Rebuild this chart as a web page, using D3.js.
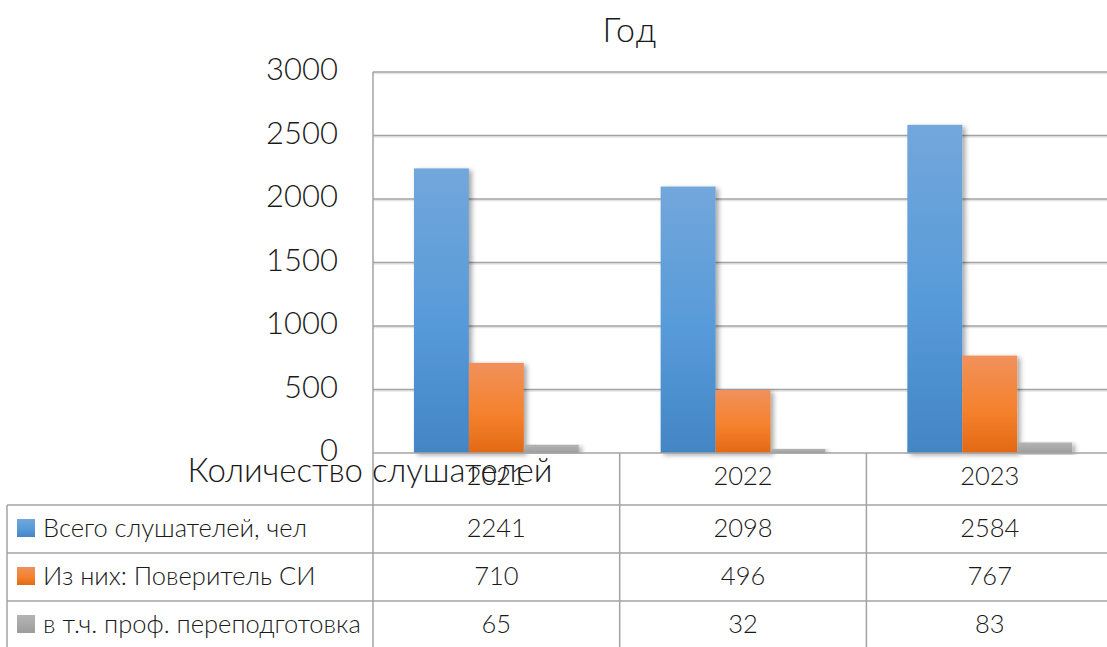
<!DOCTYPE html>
<html><head><meta charset="utf-8">
<script src="https://cdn.jsdelivr.net/npm/d3@7"></script>
<style>
html,body{margin:0;padding:0;background:#fff;}
svg text{font-family:Lato,"Open Sans",sans-serif;fill:#1a1a1a;}
</style></head>
<body>
<svg id="chart" width="1107" height="647"></svg>
<script>
const years = ["2021","2022","2023"];
const seriesNames = ["Всего слушателей, чел","Из них: Поверитель СИ","в т.ч. проф. переподготовка"];
const total = [2241, 2098, 2584];
const verifier = [710, 496, 767];
const retraining = [65, 32, 83];
const yTicks = [0, 500, 1000, 1500, 2000, 2500, 3000];
const titleText = "Год";
const axisTitle = "Количество слушателей";

const seriesValues = [total, verifier, retraining];
const colorsTop = ["#72a7db","#f0915c","#b4b4b4"];
const colorsMid = ["#579ad9","#f5822e","#a8a8a8"];
const colorsBot = ["#4385c5","#e36914","#9c9c9c"];

const svg = d3.select("#chart");
const defs = svg.append("defs");
seriesNames.forEach((s,i)=>{
  const g = defs.append("linearGradient").attr("id","g"+i).attr("x1",0).attr("y1",0).attr("x2",0).attr("y2",1);
  g.append("stop").attr("offset","0%").attr("stop-color",colorsTop[i]);
  g.append("stop").attr("offset","55%").attr("stop-color",colorsMid[i]);
  g.append("stop").attr("offset","100%").attr("stop-color",colorsBot[i]);
});
const f = defs.append("filter").attr("id","sh").attr("x","-20%").attr("y","-5%").attr("width","150%").attr("height","115%");
f.append("feDropShadow").attr("dx",3).attr("dy",2).attr("stdDeviation",2.5).attr("flood-color","#000").attr("flood-opacity",0.35);

const plotLeft = 373, bandW = 246.7, plotTop = 72, plotBottom = 453;
const x0 = d3.scaleBand().domain(years).range([plotLeft, plotLeft + bandW*years.length]);
const x1 = d3.scaleBand().domain(d3.range(seriesNames.length)).range([bandW*0.166, bandW*0.834]);
const y = d3.scaleLinear().domain([0,3000]).range([plotBottom, plotTop]);

// gridlines
const grid = svg.append("g");
grid.selectAll("line.sh").data(yTicks.filter(t=>t>0)).enter().append("line")
  .attr("x1",plotLeft).attr("x2",1107).attr("y1",d=>y(d)+1.5).attr("y2",d=>y(d)+1.5)
  .attr("stroke","#e4e4e4").attr("stroke-width",1.5);
grid.selectAll("line.gl").data(yTicks.filter(t=>t>0)).enter().append("line")
  .attr("x1",plotLeft).attr("x2",1107).attr("y1",d=>y(d)).attr("y2",d=>y(d))
  .attr("stroke","#a3a3a3").attr("stroke-width",1.5);
// vertical axis line
svg.append("line").attr("x1",plotLeft).attr("x2",plotLeft).attr("y1",plotTop).attr("y2",plotBottom)
  .attr("stroke","#a3a3a3").attr("stroke-width",1.5);

// tick labels
svg.append("g").selectAll("text").data(yTicks).enter().append("text")
  .attr("x",338).attr("y",d=>y(d)-4).attr("text-anchor","end").attr("dominant-baseline","central")
  .attr("font-size",31).attr("font-weight",300).text(d=>d);

// bars
const groups = svg.append("g").selectAll("g").data(years).enter().append("g")
  .attr("transform",d=>`translate(${x0(d)},0)`);
groups.selectAll("rect").data((d,i)=>seriesValues.map((vals,s)=>({s, v: vals[i]}))).enter().append("rect")
  .attr("x",d=>x1(d.s)).attr("width",x1.bandwidth())
  .attr("y",d=>y(d.v)).attr("height",d=>plotBottom - y(d.v))
  .attr("fill",d=>`url(#g${d.s})`).attr("filter","url(#sh)");

// table lines
const rowY = [453, 505, 553, 601, 649];
const tbl = svg.append("g").attr("stroke","#a3a3a3").attr("stroke-width",1.5);
tbl.append("line").attr("x1",plotLeft).attr("x2",1107).attr("y1",rowY[0]).attr("y2",rowY[0]);
[1,2,3].forEach(r=>tbl.append("line").attr("x1",7).attr("x2",1107).attr("y1",rowY[r]).attr("y2",rowY[r]));
tbl.append("line").attr("x1",7).attr("x2",7).attr("y1",rowY[1]).attr("y2",647);
years.forEach(yr=>tbl.append("line").attr("x1",x0(yr)).attr("x2",x0(yr)).attr("y1",rowY[0]).attr("y2",647));

// header years
svg.append("g").selectAll("text").data(years).enter().append("text")
  .attr("x",d=>x0(d)+bandW/2).attr("y",(rowY[0]+rowY[1])/2-4).attr("text-anchor","middle")
  .attr("dominant-baseline","central").attr("font-size",25.5).attr("font-weight",300).text(d=>d);

// rows
seriesNames.forEach((name,s)=>{
  const cy = (rowY[s+1]+rowY[s+2])/2 - 2;
  svg.append("rect").attr("x",17).attr("y",cy-8).attr("width",18).attr("height",18).attr("fill",`url(#g${s})`);
  svg.append("text").attr("x",43).attr("y",cy).attr("dominant-baseline","central")
    .attr("font-size",25.5).attr("font-weight",300).text(name);
  svg.append("g").selectAll("text").data(years).enter().append("text")
    .attr("x",d=>x0(d)+bandW/2).attr("y",cy).attr("text-anchor","middle").attr("dominant-baseline","central")
    .attr("font-size",25.5).attr("font-weight",300).text((d,i)=>seriesValues[s][i]);
});

// axis title and chart title
svg.append("text").attr("x",370).attr("y",469).attr("text-anchor","middle").attr("dominant-baseline","central")
  .attr("font-size",33).attr("font-weight",300).text(axisTitle);
svg.append("text").attr("x",630).attr("y",28).attr("text-anchor","middle").attr("dominant-baseline","central")
  .attr("font-size",34).attr("font-weight",300).attr("letter-spacing",1.5).text(titleText);
</script>
</body></html>
